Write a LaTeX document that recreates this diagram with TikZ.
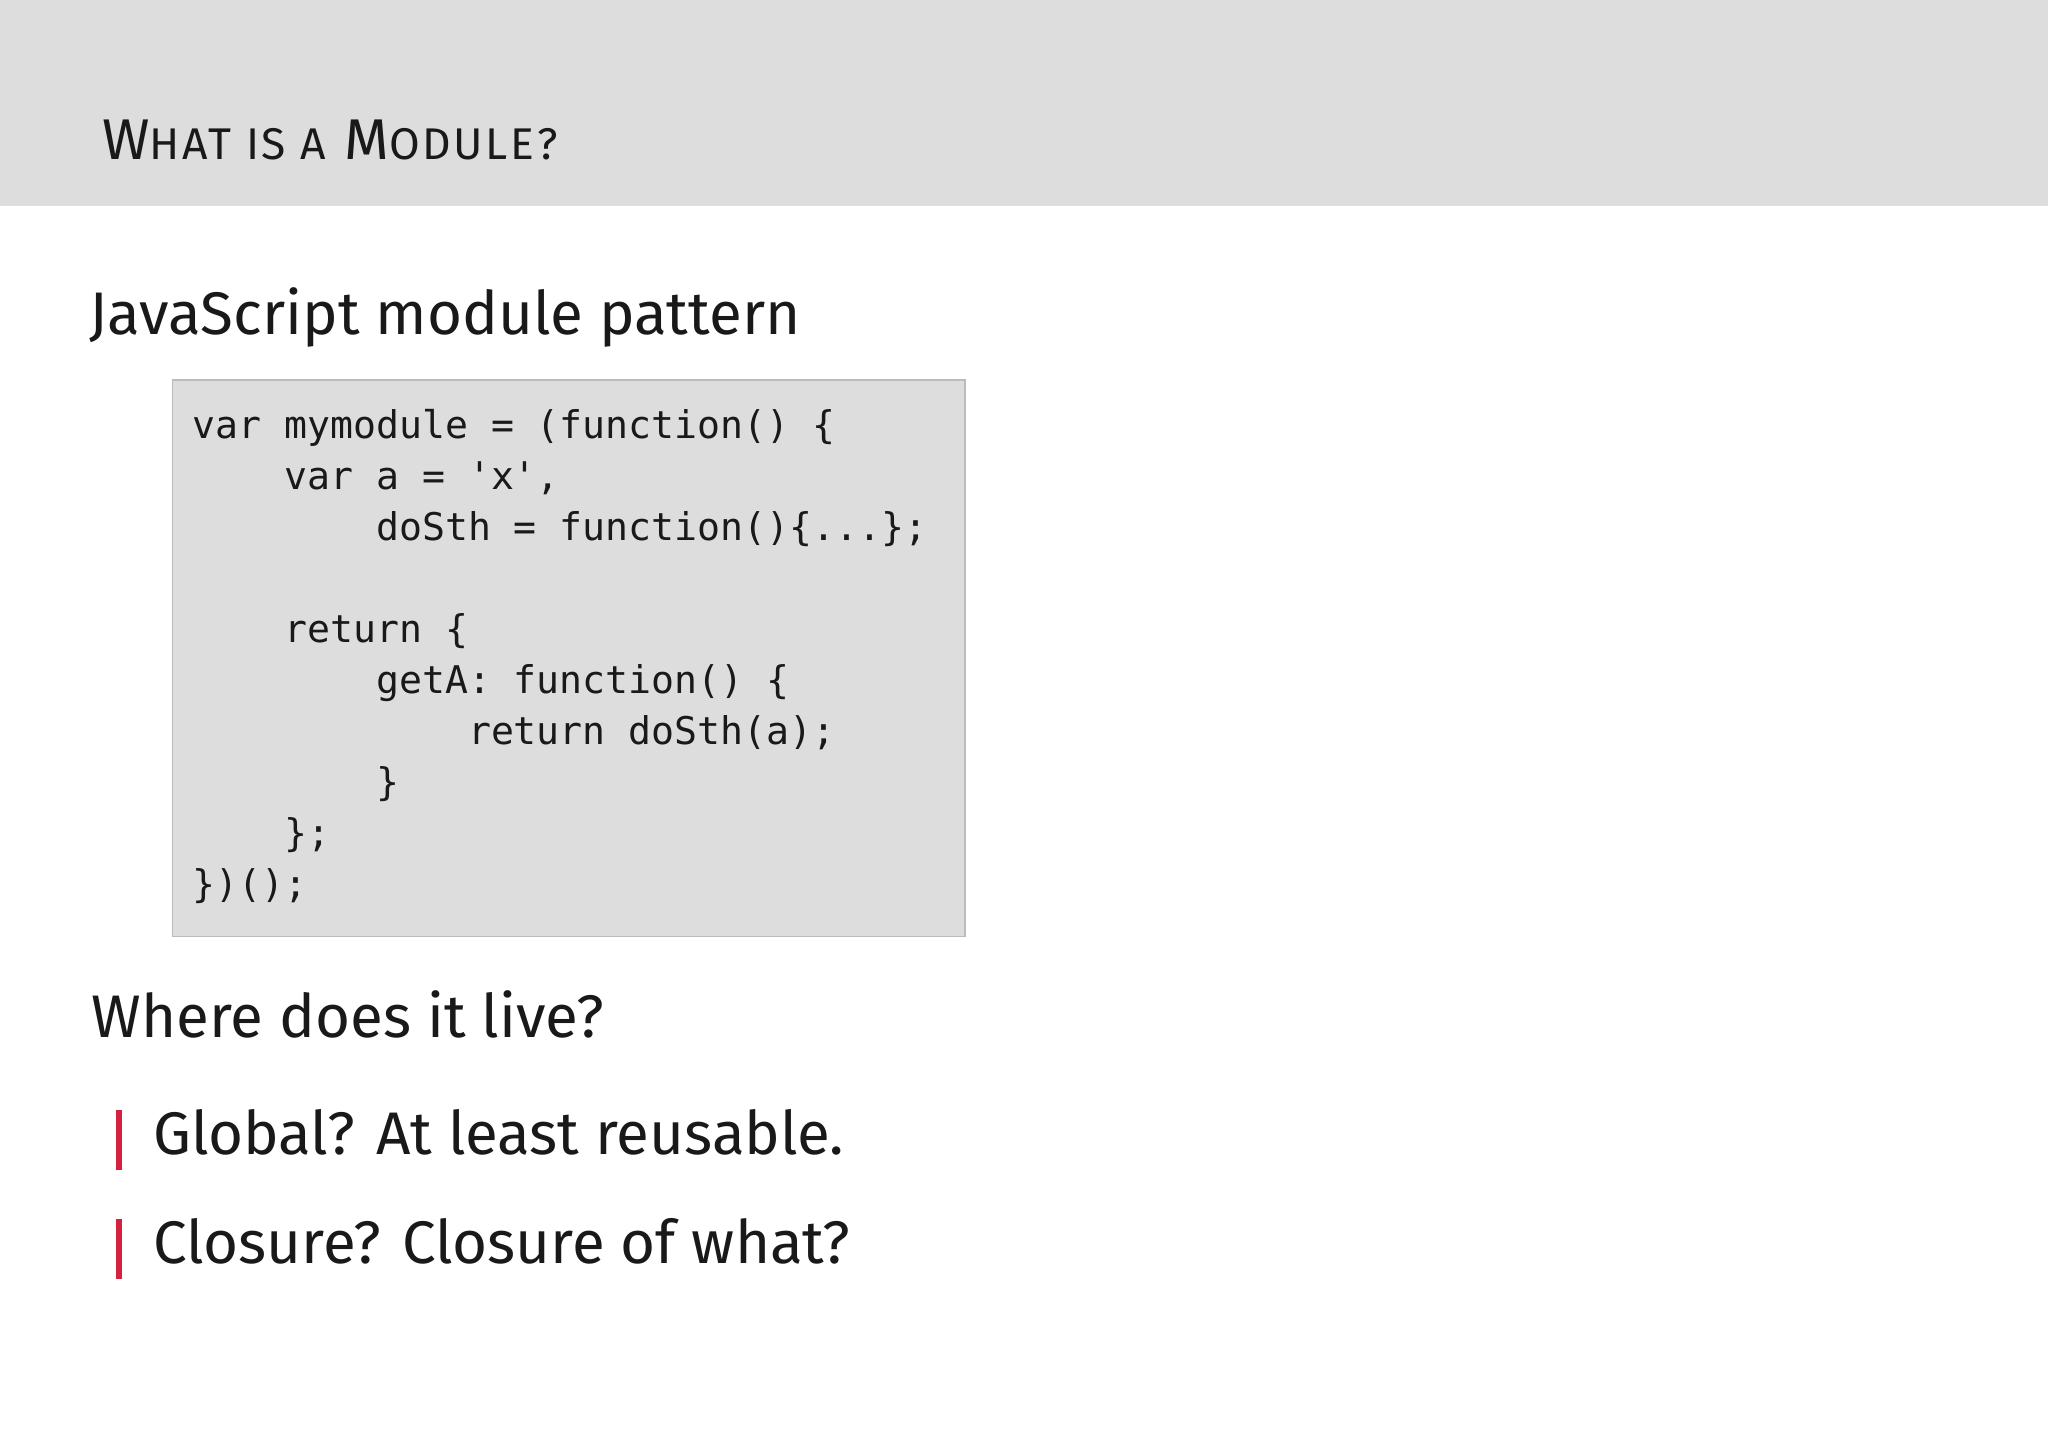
\documentclass[tikz,border=0pt]{standalone}
\usepackage{fontspec}
\setmainfont{Fira Sans}
\setmonofont{DejaVu Sans Mono}
\newfontfamily\titlefont[LetterSpace=6]{Fira Sans}
\definecolor{band}{HTML}{DDDDDD}
\definecolor{boxline}{HTML}{BBBBBB}
\definecolor{barred}{HTML}{D62040}
\begin{document}
\begin{tikzpicture}[x=0.5pt,y=-0.5pt,
  txt/.style={anchor=base west,inner sep=0pt,text=black!90},
  code/.style={txt,font=\ttfamily\fontsize{14.6}{19.5}\selectfont},
  big/.style={txt,font=\fontsize{23}{28}\selectfont},
  bar/.style={barred,line width=2.2pt}]
\useasboundingbox (0,0) rectangle (1568,1108);
\fill[band] (0,0) rectangle (1568,158);
\node[txt,font=\titlefont\fontsize{22}{26}\selectfont] (title) at (78,122)
  {W{\fontsize{17}{20}\selectfont HAT IS A} M{\fontsize{17}{20}\selectfont ODULE?}};
\node[big] (h1) at (68,256) {JavaScript module pattern};
\draw[boxline,fill=band,line width=0.6pt] (132,291) rectangle (739,717);
\foreach \i/\s in {0/{var mymodule = (function() \{},
  1/{\ \ \ \ var a = 'x',},
  2/{\ \ \ \ \ \ \ \ doSth = function()\{...\};},
  4/{\ \ \ \ return \{},
  5/{\ \ \ \ \ \ \ \ getA: function() \{},
  6/{\ \ \ \ \ \ \ \ \ \ \ \ return doSth(a);},
  7/{\ \ \ \ \ \ \ \ \}},
  8/{\ \ \ \ \};},
  9/{\})();}}
  \node[code] (c\i) at (147,336+39*\i) {\s};
\node[big] (h2) at (70,794) {Where does it live?};
\draw[bar] (91,850) -- (91,896);
\node[big] (b1) at (117,884) {Global? At least reusable.};
\draw[bar] (91,933) -- (91,979);
\node[big] (b2) at (117,967) {Closure? Closure of what?};
\end{tikzpicture}
\end{document}
